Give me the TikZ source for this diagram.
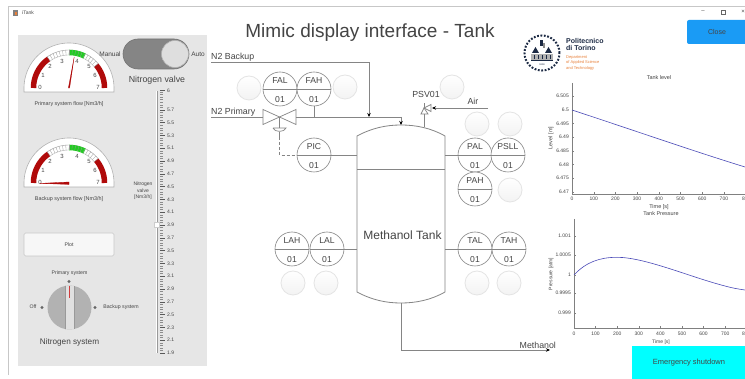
\documentclass[tikz,border=0pt]{standalone}
\usepackage{fontspec}
\setmainfont{Liberation Sans}
\usetikzlibrary{arrows.meta}
\definecolor{panelgray}{HTML}{E6E6E6}
\definecolor{pid}{HTML}{858585}
\definecolor{pidtext}{HTML}{444444}
\definecolor{gred}{HTML}{B00A0A}
\definecolor{ggreen}{HTML}{22CC22}
\definecolor{navy}{HTML}{1C2A44}
\definecolor{polorange}{HTML}{E8803A}
\definecolor{closeblue}{HTML}{1A9BF5}
\definecolor{estopcyan}{HTML}{00FFFF}
\definecolor{curve}{HTML}{4A4AB8}
\definecolor{knobred}{HTML}{D03C3C}
\definecolor{lampedge}{HTML}{E4E4E4}
\definecolor{lampbot}{HTML}{F3F3F3}
\tikzset{
  x=1pt,y=-1pt,
  lbl/.style={inner sep=0pt,text=pidtext,font=\fontsize{#1}{#1}\selectfont},
  lbl/.default=5,
  pidline/.style={draw=pid,line width=0.7pt},
  isa/.style={circle,draw=pid,line width=0.6pt,minimum size=34pt,inner sep=0pt,fill=white},
  lamp/.style={circle,draw=lampedge,line width=0.8pt,minimum size=24pt,inner sep=0pt,top color=white,bottom color=lampbot},
  arrowhead/.style={-{Stealth[length=4pt,width=3.5pt,black]}},
}
\newcommand{\isabub}[5]{%
  \node[isa] (#1) at (#2,#3) {};
  \draw[pidline] (#1.west) -- (#1.east);
  \node[lbl=8.6] (#1t) at (#2,#3-8) {#4};
  \node[lbl=8.6] (#1b) at (#2,#3+11) {#5};
}
\newcommand{\band}[6]{% cx cy r a b style
  \draw[#6] plot[domain=#4:#5,samples=24] ({#1+#3*cos(\x)},{#2-#3*sin(\x)});
}
\newcommand{\gauge}[2]{%
  \fill[white,draw=black!30,line width=0.6pt] plot[domain=180:0,samples=50] ({#1+45*cos(\x)},{#2-45*sin(\x)}) -- (#1+45,#2+4) -- (#1-45,#2+4) -- cycle;
  \band{#1}{#2}{35.5}{180}{125}{gred,line width=5.5pt}
  \band{#1}{#2}{35.5}{40}{0}{gred,line width=5.5pt}
  \band{#1}{#2}{38}{125}{40}{black!40,line width=0.4pt}
  \band{#1}{#2}{33}{125}{90}{black!30,line width=0.4pt}
  \band{#1}{#2}{33}{64}{40}{black!30,line width=0.4pt}
  \band{#1}{#2}{35.5}{90}{64}{ggreen,line width=5.5pt}
  \foreach \a in {125,120,...,40}{\draw[black!40,line width=0.3pt] ({#1+33*cos(\a)},{#2-33*sin(\a)}) -- ({#1+38*cos(\a)},{#2-38*sin(\a)});}
  \node[lbl=6] at (#1-29,#2-1) {0};
  \node[lbl=6] at (#1-26,#2-13) {1};
  \node[lbl=6] at (#1-19,#2-22) {2};
  \node[lbl=6] at (#1-7,#2-27) {3};
  \node[lbl=6] at (#1+8,#2-27) {4};
  \node[lbl=6] at (#1+20,#2-22) {5};
  \node[lbl=6] at (#1+26,#2-13) {6};
  \node[lbl=6] at (#1+29,#2-1) {7};
}
\begin{document}
\begin{tikzpicture}
\useasboundingbox (0,0) rectangle (745,379);
\fill[white] (0,0) rectangle (745,379);
% window frame
\draw[black!22,line width=0.7pt] (8,375) -- (8,6.5) -- (745,6.5);
\fill[black!50] (13,10) rectangle (18,16);
\fill[polorange] (15,12) rectangle (17,15);
\node[lbl=5,anchor=west] (wintitle) at (22,13) {iTank};
\node[lbl=6] (winmin) at (703,12) {–};
\draw[black!60,line width=0.4pt] (721,10.5) rectangle (725,14);
\node[lbl=6] (winx) at (743,12) {×};
% left panel
\fill[panelgray] (18,35) rectangle (207,366);
\gauge{69}{88}
\gauge{69}{183}
\draw[gred,line width=0.3pt,fill=gred] (68.4,88) -- (69.6,88) -- (74.2,57) -- cycle;
\draw[gred,line width=0.3pt,fill=gred] (69,182) -- (69,184.4) -- (40,183.4) -- cycle;
\node[lbl=5.4] (pflow) at (69,104.5) {Primary system flow [Nm3/h]};
\node[lbl=5.4] (bflow) at (69,199.5) {Backup system flow [Nm3/h]};
% toggle
\fill[black!48,draw=black!55,line width=0.6pt,rounded corners=15pt] (123,39) rectangle (189,69);
\node[circle,fill=black!13,draw=black!30,line width=0.6pt,minimum size=27pt,inner sep=0pt] (knobt) at (175,54) {};
\node[lbl=6.5] (manual) at (110,54) {Manual};
\node[lbl=6.5] (auto) at (198,54) {Auto};
\node[lbl=8.8] (nvalve) at (157,80) {Nitrogen valve};
% slider
\fill[black!40] (156.2,91) rectangle (157.8,353);
\fill[white] (155.5,91) rectangle (156.2,353);
\foreach \v in {0,...,102}{\draw[black!45,line width=0.3pt] (160,{353-\v*2.56}) -- (163,{353-\v*2.56});}
\foreach \v/\t in {6/6,5.7/5.7,5.5/5.5,5.3/5.3,5.1/5.1,4.9/4.9,4.7/4.7,4.5/4.5,4.3/4.3,4.1/4.1,3.9/3.9,3.7/3.7,3.5/3.5,3.3/3.3,3.1/3.1,2.9/2.9,2.7/2.7,2.5/2.5,2.3/2.3,2.1/2.1,1.9/1.9}{
  \draw[black!65,line width=0.4pt] (160,{353-(\v-1.9)*64}) -- (165,{353-(\v-1.9)*64});
  \node[lbl=5,anchor=west] at (167,{353-(\v-1.9)*64}) {\t};
}
\fill[white,draw=black!20,line width=0.3pt] (154.5,222.5) rectangle (159.5,227.5);
\node[lbl=5] (sl1) at (143,184) {Nitrogen};
\node[lbl=5] (sl2) at (143,190.5) {valve};
\node[lbl=5] (sl3) at (143,197) {[Nm3/h]};
% plot button
\node[draw=black!22,fill=black!3,line width=0.7pt,rounded corners=1.5pt,minimum width=90pt,minimum height=23pt,inner sep=0pt,lbl=5.2] (plotbtn) at (69,244.5) {Plot};
% rotary knob
\node[circle,fill=black!30,minimum size=44pt,inner sep=0pt] (knob) at (69.5,307.5) {};
\begin{scope}
  \clip (69.5,307.5) circle[radius=22pt];
  \fill[black!12] (65.5,285) rectangle (73.5,330);
  \fill[black!40] (64.7,285) rectangle (65.5,330);
  \fill[black!40] (73.5,285) rectangle (74.3,330);
\end{scope}
\draw[knobred,line width=1pt] (69.3,286) -- (69.3,298);
\fill[black!60] (69,281.5) circle[radius=1.6pt];
\fill[black!60] (42,307.5) circle[radius=1.6pt];
\fill[black!60] (95,307.5) circle[radius=1.6pt];
\node[lbl=5.2] (kprim) at (69.5,273) {Primary system};
\node[lbl=5.2] (koff) at (33,307) {Off};
\node[lbl=5.2] (kback) at (121,307) {Backup system};
\node[lbl=8.2] (ksys) at (69.5,342) {Nitrogen system};
% title
\node[lbl=19] (title) at (370,33) {Mimic display interface - Tank};
% logo
\draw[navy,line width=2pt,dash pattern=on 1.8pt off 1.6pt] (542,53) circle[radius=17.5pt];
\fill[black!30] (531,54) rectangle (553,60);
\fill[navy] (531,60) rectangle (553,61.5);
\foreach \x in {534,538,542,546,550}{\fill[navy] (\x-0.5,55) rectangle (\x+0.5,59);}
\fill[navy] (532,53) -- (535.5,47) -- (539,53) -- cycle;
\fill[navy] (545,53) -- (548.5,47) -- (552,53) -- cycle;
\fill[navy] (540,40) rectangle (543,46);
\fill[black!45] (543,43) rectangle (545,48);
\node[lbl=2.4,text=navy] (year) at (542,64.5) {1859};
\node[lbl=7,anchor=west,text=navy] (pol1) at (566,41) {\bfseries Politecnico};
\node[lbl=7,anchor=west,text=navy] (pol2) at (566,48.5) {\bfseries di Torino};
\node[lbl=4,anchor=west,text=polorange] (dep1) at (566,57.5) {Department};
\node[lbl=4,anchor=west,text=polorange] (dep2) at (566,62.5) {of Applied Science};
\node[lbl=4,anchor=west,text=polorange] (dep3) at (566,68) {and Technology};
% close & emergency
\node[fill=closeblue,rounded corners=2pt,minimum width=60pt,minimum height=24pt,inner sep=0pt,lbl=7] (closebtn) at (717,32) {Close};
\fill[white] (745,15) rectangle (760,50);
\node[fill=estopcyan,minimum width=113pt,minimum height=33pt,inner sep=0pt] (estop) at (688.5,362.5) {};
\node[lbl=7.5] (estopt) at (689,363) {Emergency shutdown};
% tank
\draw[pidline,line width=0.8pt] (357,136) .. controls (372,128) and (386,125) .. (401,125) .. controls (416,125) and (431,128) .. (445,136) -- (445,292) .. controls (431,300) and (416,303) .. (401,303) .. controls (386,303) and (372,300) .. (357,292) -- cycle;
\coordinate (ttop) at (401,125);
\coordinate (tbot) at (401,303);
\coordinate (tl) at (357,169);
\coordinate (tr) at (445,169);
\coordinate (tpsv) at (424,127.5);
\draw[pidline] (tl) -- (tr);
\node[lbl=12] (tanklbl) at (402.5,235) {Methanol Tank};
% bubbles
\isabub{fal}{280}{89}{FAL}{01}
\isabub{fah}{314}{89}{FAH}{01}
\isabub{pic}{314}{155}{PIC}{01}
\isabub{pal}{475}{155}{PAL}{01}
\isabub{psll}{508}{155}{PSLL}{01}
\isabub{pah}{475}{189}{PAH}{01}
\isabub{lah}{292}{249}{LAH}{01}
\isabub{lal}{327}{249}{LAL}{01}
\isabub{tal}{475}{249}{TAL}{01}
\isabub{tah}{509}{249}{TAH}{01}
% lamps
\foreach \n/\x/\y in {l1/249/88,l2/345/87,l3/452/87,l4/477/124,l5/510/124,l6/510/190,l7/293/283,l8/326/283,l9/477/283,l10/509/283}{
  \node[lamp] (\n) at (\x,\y) {};
}
% lines
\coordinate (bstart) at (211,62);
\coordinate (pstart) at (211,117);
\coordinate (bdrop) at (369,117);
\coordinate (pend) at (401,117);
\node[lbl=8.8,anchor=west] (n2b) at (211,57) {N2 Backup};
\node[lbl=8.8,anchor=west] (n2p) at (211,112) {N2 Primary};
% valve
\draw[pidline,fill=white] (263,109.5) -- (296,124.5) -- (296,109.5) -- (263,124.5) -- cycle;
\coordinate (vl) at (263,117);
\coordinate (vr) at (296,117);
\coordinate (vc) at (279.5,117);
\draw[pidline] (pstart) -- (vl);
\draw[pidline] (vr) -- (pend);
\draw[pidline,arrowhead] (bstart) -| (bdrop);
\draw[pidline,arrowhead] (pend) -- (ttop);
\draw[pidline] (vc) -- (279.5,128);
\draw[pidline] (273,128) -- (286,128) .. controls (285,132.5) and (274,132.5) .. (273,128);
\draw[pidline] (279.5,132) -- (279.5,137);
\draw[pidline,dash pattern=on 3pt off 2pt] (279.5,137) |- (pic.west);
\draw[pidline] (pic.east) -- (357,155);
\draw[pidline] (445,155) -- (pal.west);
\draw[pidline] (fah.south) -- (fah.south |- vr);
\draw[pidline] (lal.east) -- (357,249);
\draw[pidline] (445,249) -- (tal.west);
% PSV
\node[lbl=8.8] (psvlbl) at (426,94) {PSV01};
\coordinate (psvc) at (424,108);
\coordinate (airs) at (488,108);
\coordinate (airend) at (432,108);
\draw[pidline] (tpsv) -- (424,114);
\draw[pidline] (424,108) -- (421,114) -- (428,114) -- cycle;
\draw[pidline] (424,108) -- (431,104.5) -- (431,111.5) -- cycle;
\draw[pidline] (424,108) -- (424,103);
\draw[pidline,arrowhead] (airs) -- (airend);
\node[lbl=8.8] (airlbl) at (473,101) {Air};
% outlet
\coordinate (mend) at (550,350);
\draw[pidline,line width=0.9pt,arrowhead] (tbot) |- (mend);
\node[lbl=8.8,anchor=west] (methout) at (519.5,345) {Methanol};
% plot 1
\node[lbl=5.5] (p1title) at (659,78) {Tank level};
\draw[black!50,line width=0.5pt] (572,83) -- (572,194) -- (745,194);
\foreach \v/\t in {0/6.505,1/6.5,2/6.495,3/6.49,4/6.485,5/6.48,6/6.475,7/6.47}{
  \draw[black!50,line width=0.3pt] (572,{96+\v*13.7}) -- (574,{96+\v*13.7});
  \node[lbl=5,anchor=east] at (569,{96+\v*13.7}) {\t};
}
\foreach \v in {0,100,...,700}{
  \draw[black!50,line width=0.3pt] ({572+\v*0.217},194) -- ({572+\v*0.217},192);
  \node[lbl=5] at ({572+\v*0.217},199) {\v};
}
\node[lbl=5,anchor=east] (p1e) at (745,199) {8};
\draw[curve,line width=0.6pt] (572,110) .. controls (630,129) and (690,150) .. (745,167);
\node[lbl=5.5] (p1x) at (659,207) {Time [s]};
\node[lbl=5.5,rotate=90] (p1y) at (551,138) {Level [m]};
% plot 2
\node[lbl=5.5] (p2title) at (661,214) {Tank Pressure};
\draw[black!50,line width=0.5pt] (574,219) -- (574,328) -- (745,328);
\foreach \y/\t in {236/1.001,255/1.0005,275/1,293/0.9995,313/0.999}{
  \draw[black!50,line width=0.3pt] (574,\y) -- (576,\y);
  \node[lbl=5,anchor=east] at (571,\y) {\t};
}
\foreach \v in {0,100,...,700}{
  \draw[black!50,line width=0.3pt] ({574+\v*0.216},328) -- ({574+\v*0.216},326);
  \node[lbl=5] at ({574+\v*0.216},334) {\v};
}
\node[lbl=5,anchor=east] (p2e) at (745,334) {8};
\draw[curve,line width=0.6pt] (574,275) .. controls (586,262) and (600,257.3) .. (617,257.3) .. controls (645,257.3) and (690,277) .. (725,286) .. controls (732,288) and (738,289) .. (745,290);
\node[lbl=5] (p2x) at (661,342) {Time [s]};
\node[lbl=5,rotate=90] (p2y) at (551,274) {Pressure [atm]};
\end{tikzpicture}
\end{document}
